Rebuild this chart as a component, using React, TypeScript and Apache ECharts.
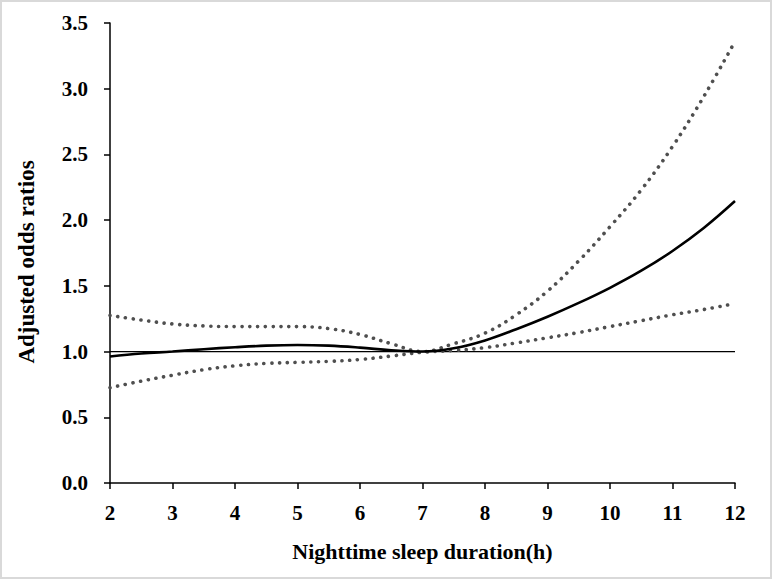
import React, { useEffect, useRef } from "react";
import * as echarts from "echarts";

const sleepHours = [2, 2.5, 3, 3.5, 4, 4.5, 5, 5.5, 6, 6.5, 7, 7.5, 8, 8.5, 9, 9.5, 10, 10.5, 11, 11.5, 12];
const oddsRatio = [0.962, 0.985, 1.0, 1.018, 1.033, 1.045, 1.05, 1.045, 1.03, 1.01, 1.0, 1.025, 1.085, 1.17, 1.265, 1.37, 1.485, 1.615, 1.765, 1.94, 2.145];
const upperCI = [1.275, 1.24, 1.21, 1.195, 1.19, 1.19, 1.19, 1.175, 1.13, 1.06, 1.0, 1.06, 1.14, 1.28, 1.46, 1.69, 1.95, 2.23, 2.56, 2.94, 3.36];
const lowerCI = [0.725, 0.775, 0.82, 0.862, 0.892, 0.91, 0.918, 0.925, 0.94, 0.966, 0.995, 1.008, 1.03, 1.066, 1.105, 1.145, 1.19, 1.235, 1.28, 1.32, 1.365];
const referenceLine = [1, 1];
const referenceX = [2, 12];
const yTicks = ["0.0", "0.5", "1.0", "1.5", "2.0", "2.5", "3.0", "3.5"];

const FONT = "'Liberation Serif', 'Times New Roman', serif";

export default function App() {
  const ref = useRef<HTMLDivElement>(null);
  useEffect(() => {
    if (!ref.current) return;
    const chart = echarts.init(ref.current, null, { renderer: "svg" });
    const pair = (ys: number[]) => sleepHours.map((x, i) => [x, ys[i]]);
    const dotted = {
      color: "#4f4f4f",
      width: 3.6,
      type: [0.1, 7.7] as any,
      cap: "round" as any,
    };
    chart.setOption({
      animation: false,
      backgroundColor: "#ffffff",
      graphic: [
        {
          type: "rect",
          shape: { x: 1, y: 1, width: 770, height: 577 },
          style: { fill: "none", stroke: "#d9d9d9", lineWidth: 2 },
          silent: true,
        },
      ],
      grid: { left: 110, right: 37, top: 23, bottom: 96 },
      xAxis: {
        type: "value",
        min: 2,
        max: 12,
        interval: 1,
        name: "Nighttime sleep duration(h)",
        nameLocation: "middle",
        nameGap: 57,
        nameTextStyle: { fontFamily: FONT, fontWeight: "bold", fontSize: 22, color: "#000" },
        axisLine: { show: true, lineStyle: { color: "#000", width: 1.5 } },
        axisTick: { show: true, inside: false, length: 6, lineStyle: { color: "#000", width: 1.5 } },
        axisLabel: { margin: 19, fontFamily: FONT, fontWeight: "bold", fontSize: 21, color: "#000" },
        splitLine: { show: false },
      },
      yAxis: {
        type: "value",
        min: 0,
        max: 3.5,
        interval: 0.5,
        name: "Adjusted odds ratios",
        nameLocation: "middle",
        nameGap: 72,
        nameTextStyle: {
          fontFamily: FONT,
          fontWeight: "bold",
          fontSize: 23,
          color: "#000",
          padding: [0, 18, 0, 0],
        },
        axisLine: { show: true, lineStyle: { color: "#000", width: 1.5 } },
        axisTick: { show: true, inside: false, length: 6, lineStyle: { color: "#000", width: 1.5 } },
        axisLabel: {
          margin: 22,
          fontFamily: FONT,
          fontWeight: "bold",
          fontSize: 21,
          color: "#000",
          formatter: (v: number) => yTicks[Math.round(v / 0.5)] ?? v.toFixed(1),
        },
        splitLine: { show: false },
      },
      series: [
        {
          type: "line",
          data: referenceX.map((x, i) => [x, referenceLine[i]]),
          symbol: "none",
          lineStyle: { color: "#000", width: 1.2 },
          z: 1,
        },
        {
          type: "line",
          data: pair(upperCI),
          smooth: 0.4,
          symbol: "none",
          lineStyle: dotted,
          z: 2,
        },
        {
          type: "line",
          data: pair(lowerCI),
          smooth: 0.4,
          symbol: "none",
          lineStyle: dotted,
          z: 2,
        },
        {
          type: "line",
          data: pair(oddsRatio),
          smooth: 0.4,
          symbol: "none",
          lineStyle: { color: "#000", width: 2.6 },
          z: 3,
        },
      ],
    });
    return () => chart.dispose();
  }, []);
  return (
    <div
      ref={ref}
      style={{ position: "fixed", left: 0, top: 0, width: 772, height: 579, background: "#fff" }}
    />
  );
}
